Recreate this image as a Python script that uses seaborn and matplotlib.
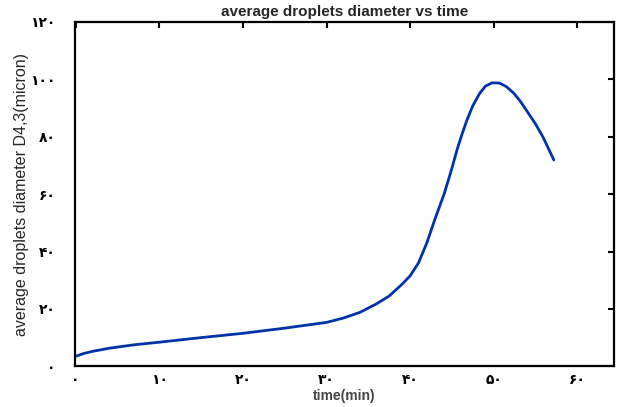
import matplotlib
matplotlib.use("Agg")
import matplotlib.pyplot as plt
import seaborn as sns
import pandas as pd

time_min = [0, 1, 2, 4, 7, 10, 15, 20, 25, 30, 32, 34, 36, 37.5, 39, 40, 41, 42, 43,
            44.1, 45, 45.6, 46.2, 46.8, 47.5, 48.3, 49, 49.8, 50.7, 51.5, 52.4, 53.2,
            53.9, 55, 55.9, 57.2]
diameter = [3.5, 4.5, 5.2, 6.3, 7.5, 8.4, 10.0, 11.5, 13.3, 15.3, 16.8, 18.8, 21.8, 24.5,
            28.5, 31.5, 36.0, 43.0, 51.5, 60.3, 69.0, 75.3, 80.8, 85.8, 90.8, 95.0, 97.6,
            98.8, 98.7, 97.5, 95.2, 92.3, 89.3, 84.5, 79.9, 71.9]

x_ticks = [0, 10, 20, 30, 40, 50, 60]
x_labels = ["۰", "۱۰", "۲۰", "۳۰", "۴۰", "۵۰", "۶۰"]
y_ticks = [0, 20, 40, 60, 80, 100, 120]
y_labels = ["۰", "۲۰", "۴۰", "۶۰", "۸۰", "۱۰۰", "۱۲۰"]

df = pd.DataFrame({"time": time_min, "d43": diameter})

sns.set_theme(style="white")
plt.rcParams['font.family'] = ['Liberation Sans', 'DejaVu Sans']

fig = plt.figure(figsize=(6.19, 4.07), dpi=100)
ax = fig.add_axes([0.121, 0.100, 0.871, 0.846])

sns.lineplot(data=df, x="time", y="d43", ax=ax, color="#0033aa", linewidth=2.0)

ax.set_xlim(-0.1, 64.4)
ax.set_ylim(0, 120)
ax.set_xticks(x_ticks)
ax.set_xticklabels(x_labels, family=['DejaVu Sans'], fontweight='bold', fontsize=10)
ax.set_yticks(y_ticks)
ax.set_yticklabels(y_labels, family=['DejaVu Sans'], fontweight='bold', fontsize=10)
ax.tick_params(direction='in', length=4, width=1.5, top=True, right=True,
               colors='black', pad=14)
ax.tick_params(axis='x', pad=5)
for s in ax.spines.values():
    s.set_linewidth(1.6)
    s.set_color('black')

ax.set_title("average droplets diameter vs time", fontsize=11, fontweight='bold', pad=4)
ax.set_xlabel("time(min)", fontsize=10, fontweight='bold', color='#444444', labelpad=1)
ax.set_ylabel("average droplets diameter D4,3(micron)", fontsize=11.5,
              family=['Liberation Sans Narrow', 'Liberation Sans'], labelpad=1)

fig.savefig("out.png", dpi=100)
